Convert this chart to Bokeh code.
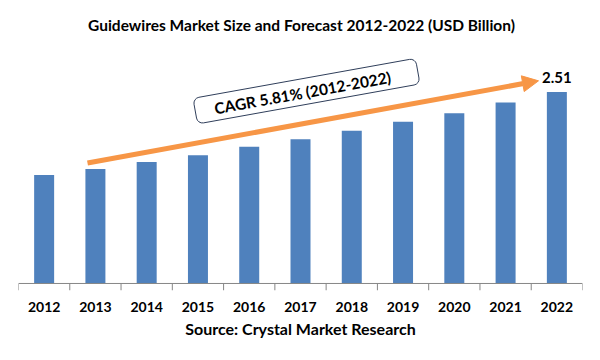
from bokeh.plotting import figure
from bokeh.models import (Range1d, FixedTicker, LinearAxis, Arrow,
                          NormalHead, ColumnDataSource, Title)
from bokeh.embed import file_html
from bokeh.resources import INLINE
from bokeh.core.properties import value

# ---- data ----
years = ["2012", "2013", "2014", "2015", "2016", "2017",
         "2018", "2019", "2020", "2021", "2022"]
market_size = [1.42, 1.50, 1.59, 1.68, 1.79, 1.89, 2.00, 2.12, 2.23, 2.37, 2.51]
title_text = "Guidewires Market Size and Forecast 2012-2022 (USD Billion)"
source_text = "Source: Crystal Market Research"
cagr_text = "CAGR 5.81% (2012-2022)"
last_label = "2.51"

# ---- styles ----
BAR = "#4F81BD"
ORANGE = "#F79646"
AXIS = "#868686"
FONT = "Lato"

idx = list(range(len(years)))
y_min, y_max = -0.092, 3.7075

p = figure(width=584, height=344, output_backend="svg", toolbar_location=None,
           x_range=Range1d(-0.5, len(years) - 0.5), y_range=Range1d(y_min, y_max),
           x_axis_type=None, y_axis_type=None,
           min_border_left=18, min_border_right=2,
           min_border_top=0, min_border_bottom=54)
p.outline_line_color = None
p.xgrid.visible = False
p.ygrid.visible = False
p.background_fill_color = "white"
p.border_fill_color = "white"

# title (drawn inside the frame's headroom)
p.text(x=[(len(years) - 1) / 2 + 0.02], y=[3.393], text=[title_text],
       text_font=value(FONT), text_font_style="bold", text_font_size="15.5px",
       text_align="center", text_baseline="middle", text_color="black")

src = ColumnDataSource(dict(x=idx, top=market_size))
p.vbar(x="x", top="top", bottom=0, width=0.39, source=src,
       fill_color=BAR, line_color=None)

# baseline and boundary ticks
bounds = [i - 0.5 for i in range(len(years) + 1)]
p.segment(x0=[-0.5], y0=[0], x1=[len(years) - 0.5], y1=[0], line_color=AXIS, line_width=1)
p.segment(x0=bounds, y0=[0] * len(bounds), x1=bounds, y1=[y_min] * len(bounds),
          line_color=AXIS, line_width=1)

# year labels axis
ax = LinearAxis(ticker=FixedTicker(ticks=idx),
                major_label_overrides={i: y for i, y in zip(idx, years)})
ax.axis_line_color = None
ax.major_tick_line_color = None
ax.minor_tick_line_color = None
ax.major_label_text_font = FONT
ax.major_label_text_font_style = "bold"
ax.major_label_text_font_size = "14px"
ax.major_label_text_color = "black"
ax.major_label_standoff = 5
p.add_layout(ax, "below")

# source line
p.add_layout(Title(text=source_text, align="center", text_font=FONT,
                   text_font_style="bold", text_font_size="16px",
                   text_color="black", standoff=4), "below")

# value label on last bar
p.text(x=[idx[-1]], y=[market_size[-1]], text=[last_label], text_font=value(FONT),
       text_font_style="bold", text_font_size="15px", text_align="center",
       text_baseline="bottom", y_offset=-9, text_color="black")

# CAGR arrow
p.add_layout(Arrow(x_start=0.846, y_start=1.579, x_end=9.642, y_end=2.655,
                   line_color=ORANGE, line_width=5,
                   end=NormalHead(size=16, fill_color=ORANGE, line_color=ORANGE)))

# CAGR box
ang = 0.178
p.rect(x=[5.117], y=[2.52], width=226, height=26, width_units="screen",
       height_units="screen", angle=ang, fill_color="white",
       line_color="#2F3E5A", line_width=1, border_radius=6)
p.text(x=[5.04], y=[2.50], text=[cagr_text], angle=ang, text_font=value(FONT),
       text_font_style="bold", text_font_size="15.5px", text_align="center",
       text_baseline="middle", text_color="black")

open("out.html", "w").write(file_html(p, INLINE))
